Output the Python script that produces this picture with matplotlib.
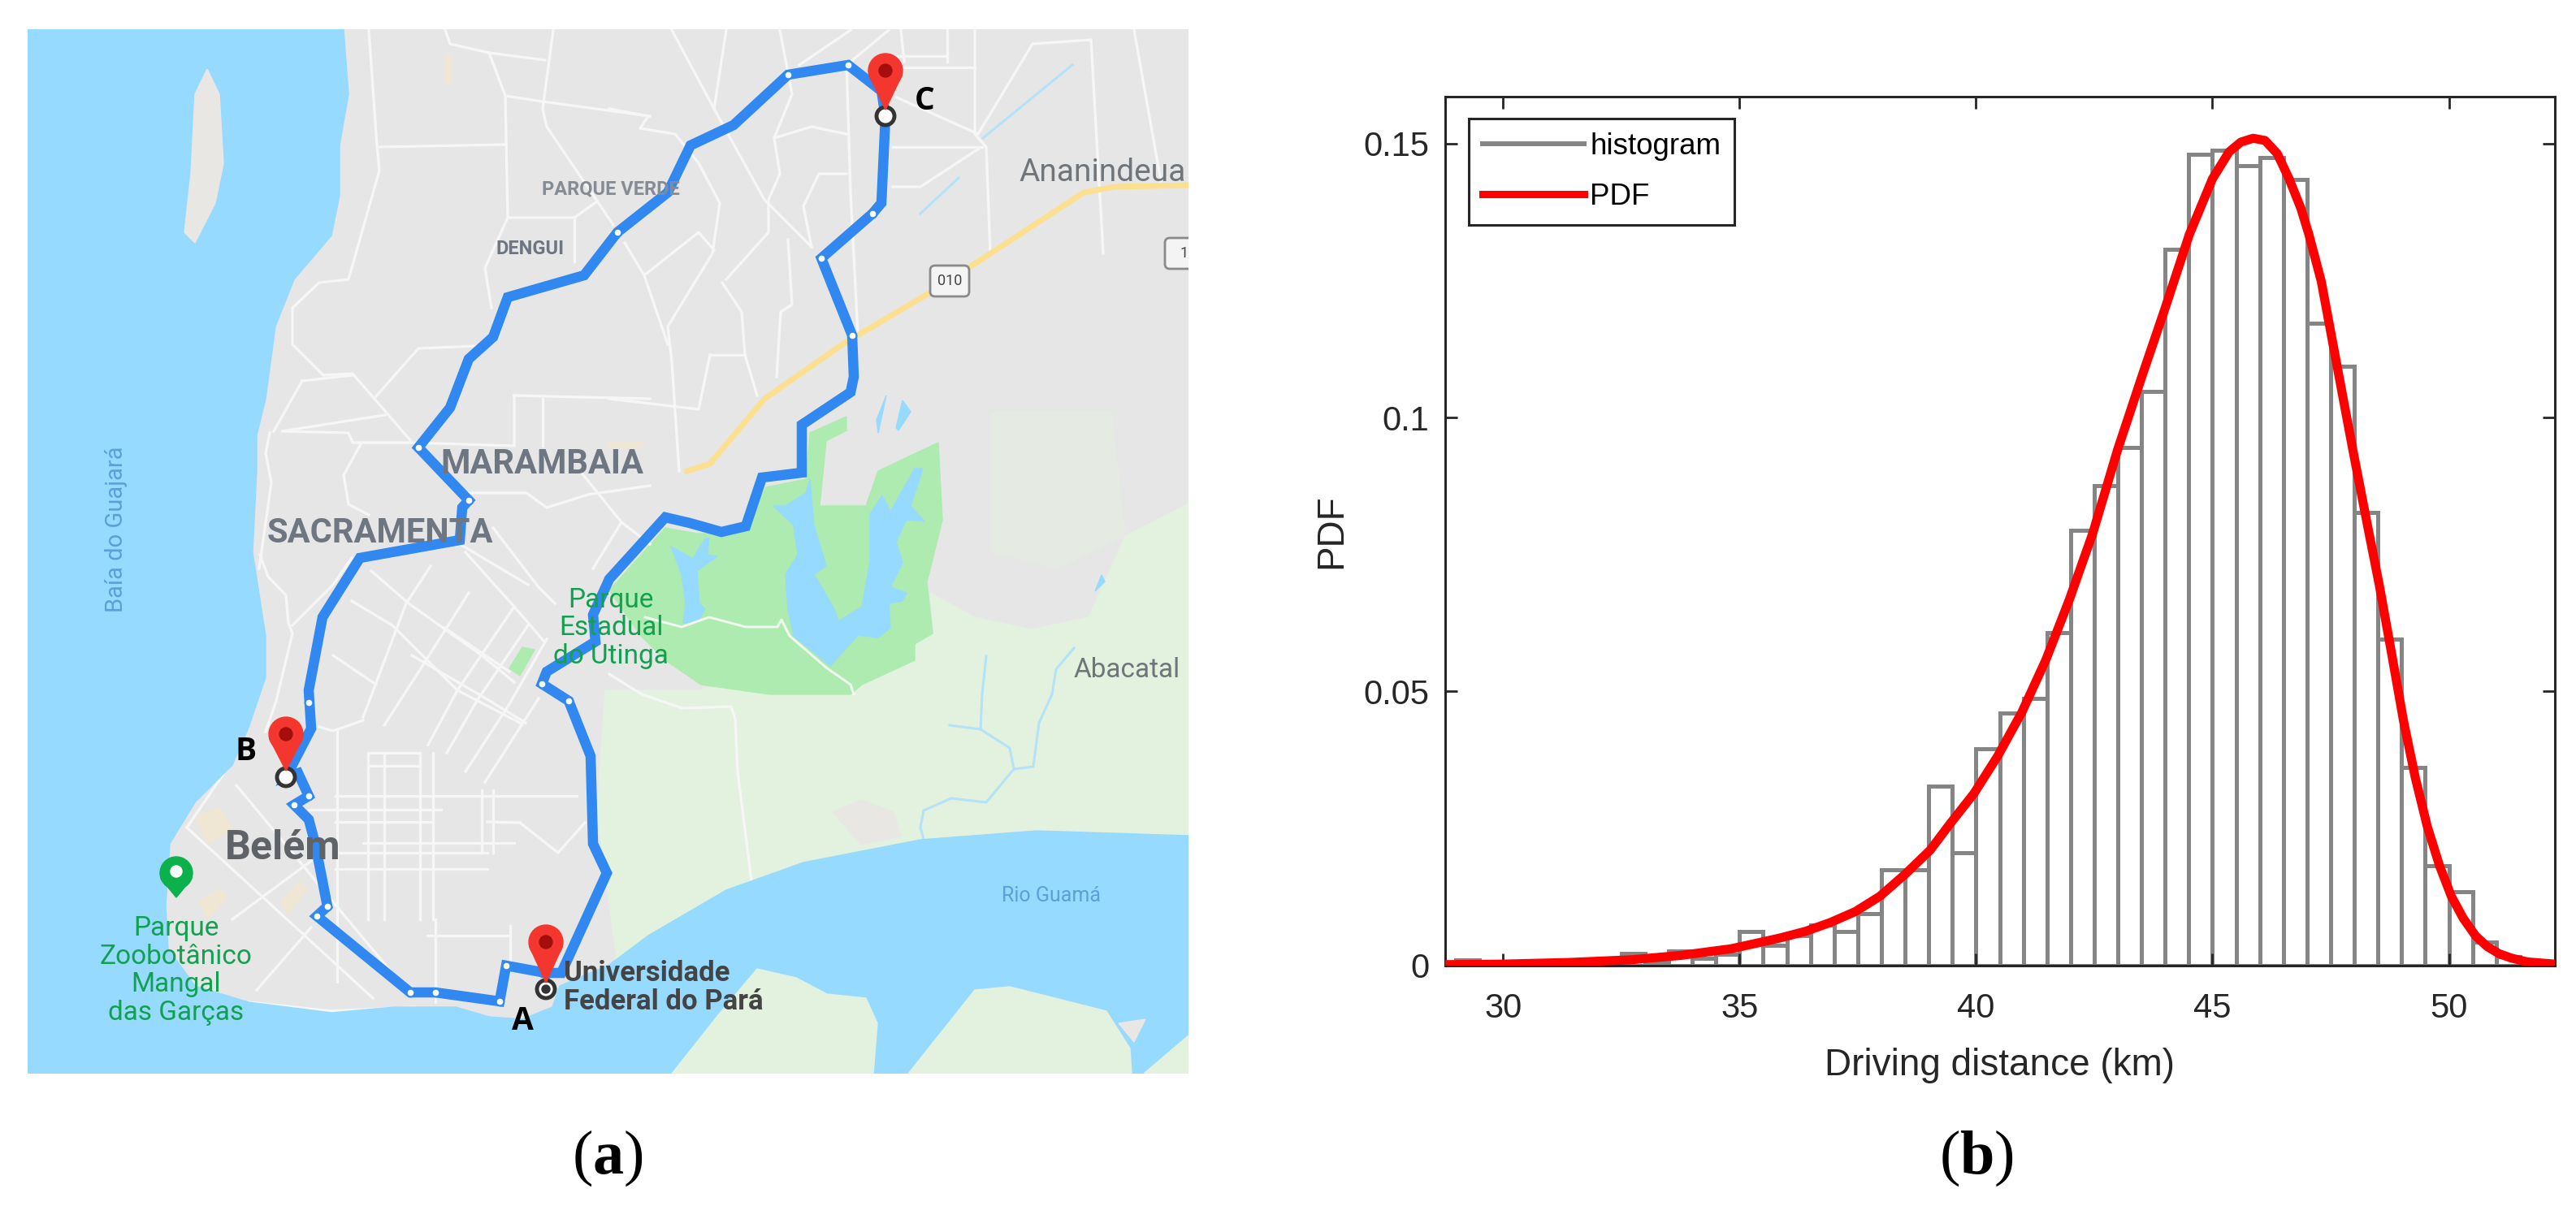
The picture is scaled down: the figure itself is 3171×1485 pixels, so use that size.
#! /bin/env python3

import matplotlib
matplotlib.use("Agg")
import matplotlib.pyplot as plt
from matplotlib.lines import Line2D
from matplotlib.patches import Circle, Polygon, FancyBboxPatch

W, H = 3171, 1485

# right panel: histogram and fitted PDF
bin_left = [29, 29.5, 30, 30.5, 31, 31.5, 32, 32.5, 33, 33.5, 34, 34.5, 35, 35.5,
            36, 36.5, 37, 37.5, 38, 38.5, 39, 39.5, 40, 40.5, 41, 41.5, 42, 42.5,
            43, 43.5, 44, 44.5, 45, 45.5, 46, 46.5, 47, 47.5, 48, 48.5, 49, 49.5,
            50, 50.5, 51, 51.5]
bin_height = [0.001, 0.0003, 0.0002, 0.0002, 0.0003, 0.0003, 0.0004, 0.0022, 0.0005,
              0.0026, 0.0012, 0.002, 0.0062, 0.0037, 0.0054, 0.0074, 0.0062, 0.0094,
              0.0174, 0.0174, 0.0327, 0.0206, 0.0395, 0.0461, 0.0487, 0.0607, 0.0794,
              0.0875, 0.0946, 0.1047, 0.1307, 0.1481, 0.1488, 0.146, 0.1475, 0.1435,
              0.1173, 0.1094, 0.0827, 0.0595, 0.0361, 0.0181, 0.0134, 0.0042, 0.0016,
              0.0008]
pdf_x = [28.77, 30, 31.4, 32.19, 32.72, 33.24, 33.77, 34.29, 34.82, 35.35, 35.87, 36.4,
         36.92, 37.45, 37.97, 38.5, 39.03, 39.45, 39.96, 40.46, 40.97, 41.48, 41.98,
         42.47, 42.99, 43.5, 44.0, 44.51, 45, 45.35, 45.6, 45.86, 46.11, 46.37, 46.62,
         46.87, 47.04, 47.3, 47.51, 47.72, 47.97, 48.31, 48.53, 48.78, 49.04, 49.29,
         49.54, 49.8, 50.05, 50.3, 50.56, 50.81, 51.06, 51.32, 51.66, 52.24]
pdf_y = [0.0001, 0.0002, 0.0005, 0.0008, 0.001, 0.0014, 0.0018, 0.0024, 0.003, 0.004,
         0.005, 0.0062, 0.0078, 0.0098, 0.0126, 0.0166, 0.021, 0.0258, 0.0314, 0.0382,
         0.0462, 0.0558, 0.0669, 0.0789, 0.094, 0.1073, 0.12, 0.1334, 0.1436, 0.1485,
         0.1503, 0.151, 0.1506, 0.1482, 0.1436, 0.1382, 0.1334, 0.1249, 0.1152, 0.1055,
         0.094, 0.0789, 0.0693, 0.0573, 0.0446, 0.0342, 0.0254, 0.0182, 0.0126, 0.0086,
         0.0054, 0.0034, 0.0021, 0.0013, 0.0006, 0.0002]
x_ticks = [30, 35, 40, 45, 50]
y_ticks = [0, 0.05, 0.1, 0.15]
y_tick_labels = ["0", "0.05", "0.1", "0.15"]

# left panel: map outlines, in pixels of the picture
bay_and_river = [(34, 36), (423, 36), (429, 116), (418, 179), (418, 241), (408, 290),
                 (362, 344), (339, 402), (327, 491), (316, 536), (316, 580), (311, 680),
                 (327, 783), (327, 834), (306, 896), (286, 942), (240, 988), (209, 1039),
                 (204, 1116), (207, 1168), (240, 1214), (306, 1234), (408, 1247),
                 (485, 1240), (561, 1240), (602, 1252), (643, 1255), (680, 1240),
                 (689, 1214), (750, 1188), (798, 1152), (894, 1096), (989, 1062),
                 (1133, 1034), (1276, 1023), (1463, 1029), (1463, 1322), (34, 1322)]
bay_island = [(255, 85), (270, 116), (275, 201), (265, 250), (240, 299), (227, 286),
              (235, 214), (240, 116)]
river_islands = [[(827, 1322), (884, 1250), (932, 1193), (980, 1204), (1018, 1224),
                  (1066, 1229), (1080, 1260), (1075, 1322)],
                 [(1118, 1322), (1200, 1219), (1243, 1215), (1362, 1245), (1391, 1291),
                  (1393, 1322)],
                 [(1408, 1322), (1463, 1275), (1463, 1322)]]
sand_patches = [[(1377, 1260), (1410, 1255), (1396, 1283)],
                [(1025, 1000), (1060, 985), (1100, 1000), (1109, 1030), (1060, 1040)]]
faint_green = [(1220, 507), (1368, 507), (1385, 660), (1300, 700), (1220, 680)]
light_green = [(745, 850), (860, 850), (1150, 780), (1145, 730), (1200, 760), (1269, 775), (1340, 760),
               (1385, 660), (1463, 620), (1463, 1029), (1276, 1023), (1133, 1034), (989, 1062),
               (894, 1096), (798, 1152), (760, 1190), (735, 1000)]
park = [(819, 650), (858, 657), (913, 657), (943, 600), (992, 590), (997, 533), (1042, 513), (1042, 530),
        (1017, 543), (1009, 623), (1066, 623), (1081, 580), (1155, 545), (1160, 640), (1141, 717),
        (1148, 780), (1126, 793), (1126, 813), (1061, 843), (1047, 855), (948, 855), (863, 843),
        (819, 813), (789, 783), (750, 727)]
city_park = [(627, 823), (643, 797), (658, 800), (640, 832)]
lake = [(997, 590), (1002, 647), (1017, 697), (1002, 707), (1027, 750), (1032, 765), (1061, 747),
        (1071, 690), (1071, 633), (1086, 610), (1096, 630), (1126, 577), (1136, 577), (1121, 623),
        (1138, 642), (1116, 640), (1103, 667), (1111, 693), (1096, 723), (1116, 730), (1111, 740),
        (1094, 743), (1096, 773), (1081, 785), (1056, 782), (1022, 820), (977, 783), (970, 750),
        (967, 707), (982, 683), (977, 647), (952, 623), (967, 623), (992, 607)]
small_lake = [(826, 673), (853, 688), (868, 663), (873, 663), (871, 683), (883, 685), (858, 703),
              (861, 743), (868, 750), (858, 767), (841, 767), (844, 743), (839, 707)]
ponds = [[(1091, 487), (1081, 533), (1079, 517)],
         [(1111, 493), (1121, 507), (1106, 530), (1103, 527)],
         [(1356, 708), (1360, 716), (1348, 728)]]
park_path = [(794, 760), (839, 772), (873, 760), (918, 772), (957, 772), (962, 763), (972, 783),
             (1017, 822), (1047, 843), (1051, 855)]
streams = [[(1169, 893), (1207, 898), (1243, 921), (1248, 947), (1214, 988), (1171, 983),
            (1137, 998), (1133, 1019), (1137, 1034)],
           [(1248, 947), (1272, 944), (1279, 890), (1295, 855), (1300, 824), (1322, 798)],
           [(1207, 898), (1209, 855), (1214, 808)],
           [(1133, 263), (1180, 219)],
           [(1210, 170), (1320, 80)]]
white_roads = [[(454, 37), (464, 179), (467, 210), (429, 344), (393, 348), (360, 379), (360, 424),
                (398, 462), (434, 460), (505, 542)],
               [(467, 181), (622, 178)],
               [(548, 37), (554, 54), (602, 65), (671, 74)],
               [(602, 65), (622, 118), (668, 125), (800, 143)],
               [(622, 118), (625, 268), (707, 268), (735, 248)],
               [(681, 37), (668, 134), (673, 156), (755, 277)],
               [(625, 268), (597, 330), (605, 379)],
               [(707, 268), (707, 322)],
               [(587, 426), (515, 429), (462, 489)],
               [(474, 511), (347, 531), (429, 533), (434, 545), (505, 545)],
               [(372, 469), (434, 462)], [(372, 469), (337, 531)],
               [(332, 533), (327, 558), (334, 594), (319, 700)],
               [(444, 547), (423, 585), (429, 621), (454, 634)],
               [(633, 487), (800, 491)], [(633, 487), (633, 549), (505, 545)],
               [(668, 491), (668, 549)],
               [(577, 607), (648, 607), (673, 625), (724, 609), (800, 598)],
               [(714, 580), (765, 643), (800, 670)], [(765, 643), (730, 700)],
               [(566, 670), (650, 720)],
               [(827, 37), (879, 134), (941, 246), (999, 304)],
               [(894, 37), (879, 134)],
               [(960, 37), (975, 116), (953, 170), (960, 214), (946, 246), (946, 286), (894, 344)],
               [(1047, 37), (984, 80)], [(1094, 37), (1047, 76)],
               [(1042, 76), (1047, 237), (1056, 411)],
               [(1109, 37), (1113, 76)], [(1166, 37), (1166, 76)],
               [(1200, 37), (1200, 165), (1214, 181), (1219, 312)],
               [(1104, 69), (1166, 69)], [(1104, 83), (1200, 83)],
               [(1104, 120), (1204, 165), (1271, 54), (1343, 49), (1358, 312)],
               [(1099, 181), (1209, 181)], [(1099, 230), (1133, 230), (1205, 183)],
               [(1396, 37), (1429, 223)],
               [(750, 134), (798, 143), (788, 158), (831, 165), (860, 201), (886, 250), (877, 312),
                (822, 402), (827, 446), (836, 580)],
               [(769, 299), (793, 339), (822, 424)],
               [(793, 339), (860, 286), (879, 308)],
               [(889, 348), (913, 384), (917, 437), (932, 487)],
               [(874, 437), (917, 437)], [(874, 437), (860, 504), (750, 491)],
               [(956, 464), (961, 384), (975, 375), (970, 295)],
               [(953, 170), (999, 156), (1042, 165)],
               [(989, 254), (1008, 214), (1042, 214)], [(989, 254), (999, 304)],
               # city blocks
               [(447, 883), (500, 743), (530, 697)], [(473, 893), (520, 820), (577, 730)],
               [(527, 917), (563, 850), (633, 747)], [(550, 927), (587, 863), (650, 770)],
               [(573, 950), (627, 867), (673, 787)], [(597, 963), (663, 860)],
               [(457, 703), (503, 743), (593, 807), (633, 840)],
               [(433, 740), (483, 770), (563, 850), (640, 890)], [(410, 807), (463, 843)],
               [(573, 680), (633, 747), (670, 790)], [(607, 650), (663, 723), (683, 743)],
               [(507, 807), (593, 857), (647, 890)], [(547, 773), (627, 827)],
               [(453, 927), (453, 1132)], [(473, 927), (473, 1132)], [(517, 927), (517, 1132)],
               [(533, 927), (533, 1132)], [(415, 900), (415, 1209)], [(593, 973), (593, 1050)],
               [(607, 973), (607, 1050)], [(453, 927), (517, 927)], [(453, 943), (517, 943)],
               [(413, 980), (710, 980)], [(380, 997), (543, 997)], [(413, 1012), (533, 1012)],
               [(447, 1038), (633, 1038)], [(413, 1050), (600, 1050)], [(413, 1070), (600, 1070)],
               [(640, 1013), (687, 1050), (720, 1013)], [(600, 1012), (640, 1013)],
               # west shore and south
               [(320, 683), (330, 710), (352, 733), (355, 767), (360, 780), (340, 863)],
               [(360, 770), (410, 720), (433, 687)], [(393, 895), (410, 900), (447, 887)],
               [(230, 1019), (459, 1229)], [(291, 967), (500, 1219)], [(316, 1219), (383, 1142)],
               [(286, 1132), (383, 1060)], [(306, 1234), (408, 1245), (510, 1240)],
               [(286, 937), (230, 1019)], [(327, 901), (340, 863)],
               [(536, 1132), (536, 1234)], [(526, 1152), (628, 1152)], [(628, 1140), (628, 1193)],
               [(750, 830), (790, 855), (840, 872), (900, 870), (905, 885), (908, 950), (925, 1085)]]
yellow_road = [(846, 580), (874, 571), (941, 491), (1037, 424), (1142, 362), (1195, 328), (1334, 237),
               (1372, 230), (1463, 228)]
beige_patches = [[(240, 1005), (270, 995), (286, 1020), (255, 1040)],
                 [(245, 1110), (270, 1095), (280, 1105), (255, 1130)],
                 [(345, 1110), (370, 1085), (378, 1095), (355, 1125)],
                 [(548, 67), (555, 67), (555, 103), (548, 103)],
                 [(750, 544), (790, 544), (790, 551), (750, 551)]]
route = [(672, 1198), (623, 1189), (615, 1233), (536, 1222), (505, 1222), (390, 1128), (403, 1116),
         (388, 1039), (380, 1009), (362, 991), (380, 980), (367, 952), (352, 957), (383, 897),
         (380, 850), (397, 760), (443, 687), (566, 665), (569, 625), (577, 616), (515, 551),
         (554, 502), (577, 442), (607, 415), (625, 366), (719, 339), (760, 286), (822, 237),
         (850, 179), (903, 154), (970, 92), (1044, 80), (1085, 112), (1090, 143), (1085, 250),
         (1074, 263), (1011, 318), (1049, 413), (1051, 464), (1047, 483), (987, 523), (987, 582),
         (938, 588), (918, 648), (888, 655), (849, 644), (819, 637), (750, 713), (730, 757),
         (733, 790), (673, 827), (667, 842), (700, 863), (727, 931), (730, 1039), (747, 1075),
         (691, 1198), (672, 1198)]
waypoints = [(623, 1189), (615, 1233), (536, 1222), (505, 1222), (390, 1128), (403, 1116), (362, 991),
             (380, 980), (380, 865), (577, 616), (515, 551), (760, 286), (970, 92), (1044, 80),
             (1074, 263), (1011, 318), (1049, 413), (667, 842), (700, 863)]
red_pins = [(672, 1160), (352, 904), (1090, 87)]
stop_rings = [(672, 1218), (352, 957), (1090, 143)]
stop_names = ["A", "B", "C"]
stop_name_pos = [(643, 1257), (303, 925), (1138, 124)]
shields = [(1169, 346), (1458, 312)]
shield_text = ["010", "1"]


def map_label(txt, x, y, size, color, weight="normal", rotation=0, ha="center", spacing=1.1):
    ax_map.text(x, y, txt, fontsize=size, color=color, weight=weight, rotation=rotation, ha=ha,
                va="center", family="Roboto", linespacing=spacing, zorder=8)


plt.rcParams["mathtext.fontset"] = "custom"
plt.rcParams["mathtext.rm"] = "Liberation Serif"
plt.rcParams["mathtext.bf"] = "Liberation Serif:bold"

fig = plt.figure(figsize=(W / 100, H / 100), dpi=100)

# --- map ---
ax_map = fig.add_axes([34 / W, 1 - 1322 / H, (1463 - 34) / W, (1322 - 36) / H])
ax_map.set_xlim(34, 1463)
ax_map.set_ylim(1322, 36)
ax_map.axis("off")
ax_map.add_patch(Polygon([(34, 36), (1463, 36), (1463, 1322), (34, 1322)], color="#E6E6E6", zorder=0))
ax_map.add_patch(Polygon(faint_green, color="#E5EBE3", zorder=0.5))
ax_map.add_patch(Polygon(light_green, color="#E2F2DF", zorder=1))
for p in sand_patches[1:]:
    ax_map.add_patch(Polygon(p, color="#E9E7E4", zorder=1.2))
for p in beige_patches:
    ax_map.add_patch(Polygon(p, color="#EFE6D3", zorder=1.3))
ax_map.add_patch(Polygon(park, color="#AEEBB0", zorder=1.5))
ax_map.add_patch(Polygon(city_park, color="#AEEBB0", zorder=2.5))
for p in (lake, small_lake, *ponds):
    ax_map.add_patch(Polygon(p, color="#96DAFF", zorder=1.6))
ax_map.plot(*zip(*park_path), color="#F0F8EE", lw=2.2, zorder=1.9)
for s in streams:
    ax_map.plot(*zip(*s), color="#B4E2F8", lw=2.2, zorder=1.8)
for r in white_roads:
    ax_map.plot(*zip(*r), color="#F6F6F6", lw=2.4, solid_joinstyle="round", zorder=2)
ax_map.add_patch(Polygon(bay_and_river, color="#96DAFF", zorder=3))
ax_map.add_patch(Polygon(bay_island, color="#E9E7E4", zorder=3.1))
for p in river_islands:
    ax_map.add_patch(Polygon(p, color="#E2F2DF", zorder=3.1))
ax_map.add_patch(Polygon(sand_patches[0], color="#E9E7E4", zorder=3.2))
ax_map.plot(*zip(*yellow_road), color="#FCE08F", lw=5, solid_joinstyle="round", zorder=3.5)

map_label("Baía do Guajará", 143, 652, 21, "#5B9FDC", rotation=90)
map_label("Rio Guamá", 1294, 1103, 18, "#5B9FDC")
map_label("MARAMBAIA", 667, 571, 30, "#6E7681", weight="bold")
map_label("SACRAMENTA", 468, 656, 30, "#6E7681", weight="bold")
map_label("PARQUE VERDE", 752, 233, 17, "#858C96", weight="bold")
map_label("DENGUI", 653, 306, 17, "#6E7681", weight="bold")
map_label("Ananindeua", 1357, 212, 28, "#70757A")
map_label("Abacatal", 1387, 825, 24, "#70757A")

ax_map.plot(*zip(*route), color="#3088F0", lw=9, solid_joinstyle="miter", zorder=5)
ax_map.plot(*zip(*waypoints), ls="none", marker="o", ms=7, mfc="white", mec="#3088F0", mew=1.5, zorder=6)

map_label("Belém", 348, 1044, 36, "#5F6368", weight="bold")
map_label("Parque\nEstadual\ndo Utinga", 752, 773, 24, "#12A150")
map_label("Parque\nZoobotânico\nMangal\ndas Garças", 217, 1195, 24, "#12A150")
map_label("Universidade\nFederal do Pará", 694, 1216, 25, "#444444", weight="bold", ha="left")

for (px, py), (rx, ry) in zip(red_pins, stop_rings):
    ax_map.add_patch(Circle((rx, ry), 11, fc="white", ec="#333333", lw=3.5, zorder=6.5))
    ax_map.add_patch(Polygon([(px - 20, py + 6), (px + 20, py + 6), (rx, ry - 8)], color="#F4372E", zorder=7))
    ax_map.add_patch(Circle((px, py), 21, color="#F4372E", zorder=7))
    ax_map.add_patch(Circle((px, py), 8, color="#A50E0E", zorder=7.1))
ax_map.add_patch(Circle(stop_rings[0], 5, color="#333333", zorder=7))
ax_map.add_patch(Polygon([(198, 1082), (236, 1082), (217, 1105)], color="#0DB14B", zorder=7))
ax_map.add_patch(Circle((217, 1075), 20, color="#0DB14B", zorder=7))
ax_map.add_patch(Circle((217, 1073), 7, color="white", zorder=7.1))
for (sx, sy), s in zip(shields, shield_text):
    ax_map.add_patch(FancyBboxPatch((sx - 24, sy - 19), 48, 38, boxstyle="round,pad=0,rounding_size=6",
                                    fc="#F4F4F4", ec="#8A8A8A", lw=2, zorder=7))
    ax_map.text(sx, sy, s, fontsize=13, color="#444444", ha="center", va="center", family="Roboto", zorder=8)
for name, (nx, ny) in zip(stop_names, stop_name_pos):
    ax_map.text(nx, ny, name, fontsize=28, color="black", weight="bold", ha="center", va="center",
                family="Open Sans", zorder=9)

# --- histogram ---
ax = fig.add_axes([1778.6 / W, 1 - 1188.5 / H, (3145 - 1778.6) / W, (1188.5 - 119) / H])
ax.bar(bin_left, bin_height, width=0.5, align="edge", fill=False, edgecolor="#858585", linewidth=3.6)
ax.plot(pdf_x, pdf_y, color="#FF0000", lw=8, zorder=4)
ax.set_xlim(28.77, 52.24)
ax.set_ylim(0, 0.1586)
ax.set_xticks(x_ticks)
ax.set_yticks(y_ticks)
ax.set_yticklabels(y_tick_labels)
ax.tick_params(direction="in", top=True, right=True, length=11, width=2, labelsize=30,
               labelcolor="#262626", color="#262626")
ax.tick_params(axis="x", pad=24)
ax.tick_params(axis="y", pad=14)
for lab in ax.get_xticklabels() + ax.get_yticklabels():
    lab.set_family("Liberation Sans")
for sp in ax.spines.values():
    sp.set_linewidth(2.2)
    sp.set_color("#262626")
ax.set_xlabel("Driving distance (km)", fontsize=33, color="#262626", family="Liberation Sans", labelpad=20)
ax.set_ylabel("PDF", fontsize=33, color="#262626", family="Liberation Sans", labelpad=12)

handles = [Line2D([], [], color="#858585", lw=4.3), Line2D([], [], color="#FF0000", lw=6.5)]
leg = ax.legend(handles, ["histogram", "PDF"], loc="upper left", bbox_to_anchor=(29.5 / 1366, 1 - 27 / 1069.5),
                prop={"family": "Liberation Sans", "size": 26.5}, fancybox=False, framealpha=1,
                edgecolor="#262626", handlelength=3.4, handletextpad=0.2, labelspacing=0.75,
                borderpad=0.45, borderaxespad=0)
leg.get_frame().set_linewidth(2.2)

# panel captions
fig.text(748 / W, 1 - 1426 / H, r"($\mathbf{a}$)", fontsize=55, family="Liberation Serif", ha="center", va="center")
fig.text(2433 / W, 1 - 1426 / H, r"($\mathbf{b}$)", fontsize=55, family="Liberation Serif", ha="center", va="center")

fig.savefig("out.png", dpi=100)
